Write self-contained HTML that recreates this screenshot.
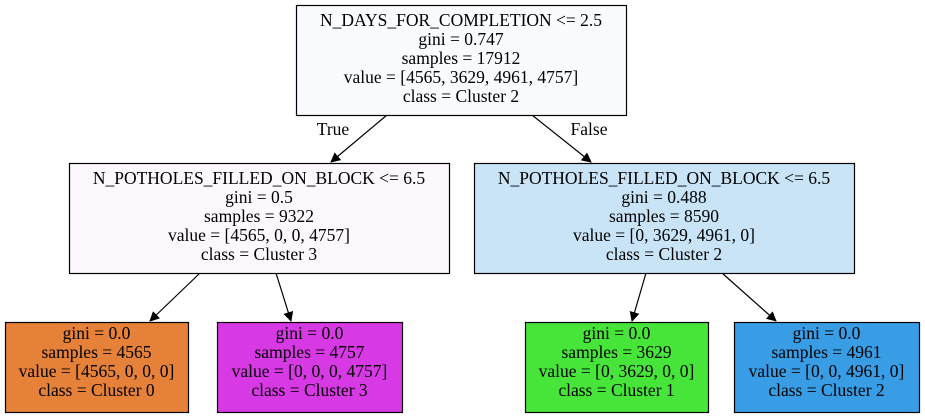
<!DOCTYPE html>
<html><head><meta charset="utf-8"><style>
html,body{margin:0;padding:0;background:#fff;width:925px;height:419px;overflow:hidden}
svg text{font-family:"Liberation Serif","Times New Roman",serif;font-size:17.5px;fill:#000}
</style></head><body>
<svg width="925" height="419" viewBox="0 0 925 419">
<defs><marker id="ah" markerWidth="10" markerHeight="10" refX="9" refY="5" orient="auto" markerUnits="userSpaceOnUse"><path d="M0,0 L10,5 L0,10 z" fill="#000"/></marker></defs>
<g stroke="#000" stroke-width="1.2">
<line x1="387" y1="115" x2="331" y2="162" marker-end="url(#ah)"/>
<line x1="532" y1="115" x2="591" y2="162" marker-end="url(#ah)"/>
<line x1="200" y1="273" x2="150" y2="321" marker-end="url(#ah)"/>
<line x1="276" y1="273" x2="291" y2="321" marker-end="url(#ah)"/>
<line x1="646" y1="273" x2="632" y2="321" marker-end="url(#ah)"/>
<line x1="722" y1="273" x2="776" y2="321" marker-end="url(#ah)"/>
</g>
<text x="333" y="135" text-anchor="middle">True</text>
<text x="589" y="135" text-anchor="middle">False</text>
<g id="nodes"></g>
</svg>
<script>
const nodeLines=[
["N_DAYS_FOR_COMPLETION <= 2.5","gini = 0.747","samples = 17912","value = [4565, 3629, 4961, 4757]","class = Cluster 2"],
["N_POTHOLES_FILLED_ON_BLOCK <= 6.5","gini = 0.5","samples = 9322","value = [4565, 0, 0, 4757]","class = Cluster 3"],
["N_POTHOLES_FILLED_ON_BLOCK <= 6.5","gini = 0.488","samples = 8590","value = [0, 3629, 4961, 0]","class = Cluster 2"],
["gini = 0.0","samples = 4565","value = [4565, 0, 0, 0]","class = Cluster 0"],
["gini = 0.0","samples = 4757","value = [0, 0, 0, 4757]","class = Cluster 3"],
["gini = 0.0","samples = 3629","value = [0, 3629, 0, 0]","class = Cluster 1"],
["gini = 0.0","samples = 4961","value = [0, 0, 4961, 0]","class = Cluster 2"]];
const nodeFills=["#f9fbfe","#fdf8fe","#c9e4f7","#e58139","#d739e5","#47e539","#399de5"];
const nodeNames=["root-node","left-node","right-node","leaf-cluster-0","leaf-cluster-3","leaf-cluster-1","leaf-cluster-2"];
const boxes=[[296,5,330,110],[69,163,380,110],[474,163,380,110],[5,322,183,90],[217,322,185,90],[525,322,183,90],[734,322,185,90]];
const NS="http://www.w3.org/2000/svg";
const g=document.getElementById('nodes');
nodeLines.forEach((lines,i)=>{
  const [x,y,w,h]=boxes[i];
  const grp=document.createElementNS(NS,'g');
  
  
  const r=document.createElementNS(NS,'rect');
  r.setAttribute('x',x+0.5);r.setAttribute('y',y+0.5);r.setAttribute('width',w);r.setAttribute('height',h);
  r.setAttribute('fill',nodeFills[i]);r.setAttribute('stroke','#000');r.setAttribute('stroke-width','1.2');
  
  
  grp.appendChild(r);
  lines.forEach((t,j)=>{
    const tx=document.createElementNS(NS,'text');
    tx.setAttribute('x',x+w/2);tx.setAttribute('y',(h===110?y+21:y+17)+j*19);
    tx.setAttribute('text-anchor','middle');
    tx.textContent=t;
    
    
    grp.appendChild(tx);
  });
  g.appendChild(grp);
});
</script>
</body></html>
